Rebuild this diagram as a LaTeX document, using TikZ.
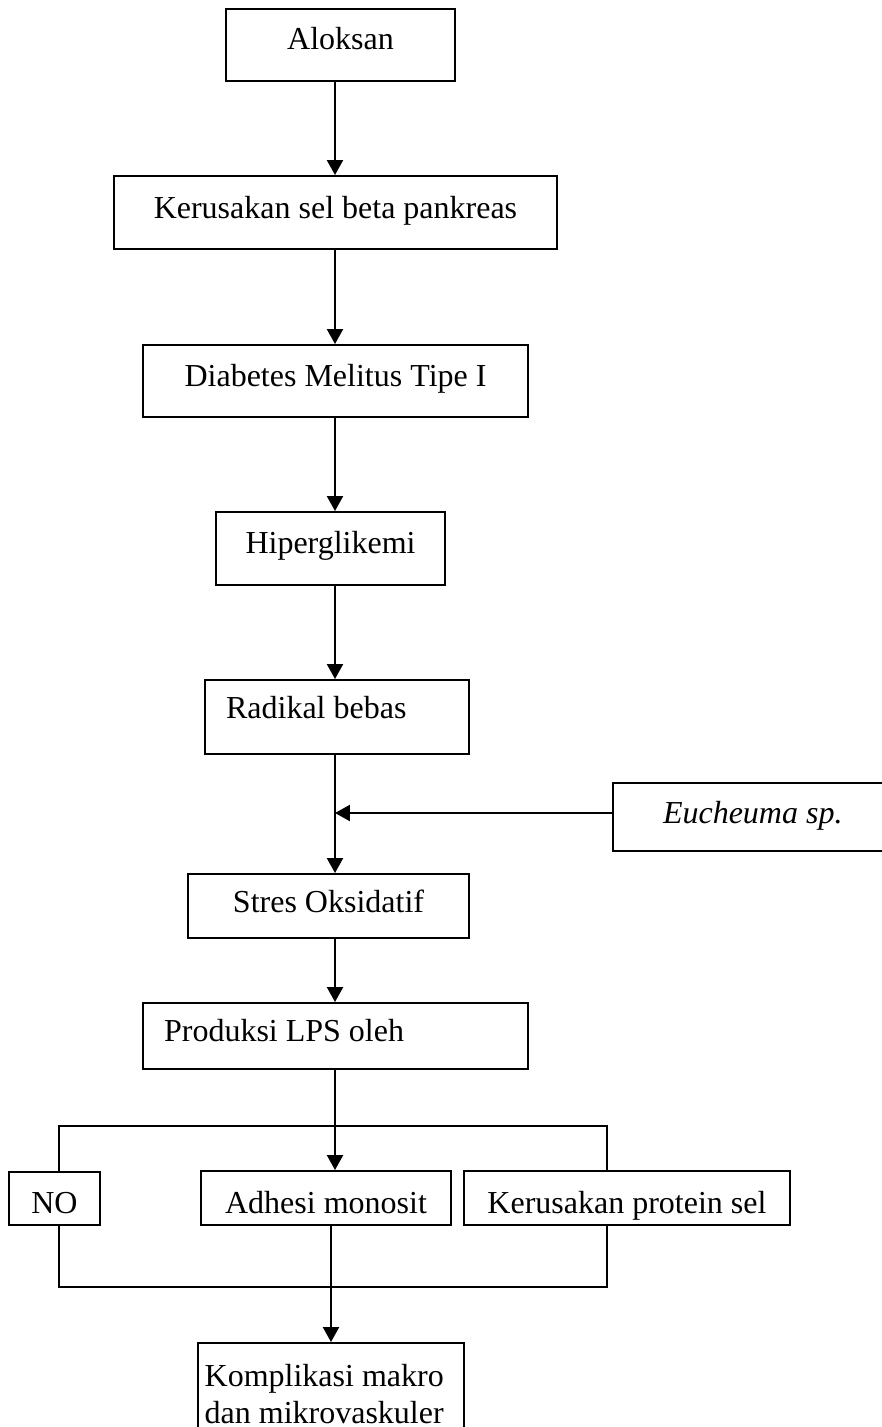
\documentclass[tikz,border=0pt]{standalone}
\usepackage{fontspec}
\setmainfont{Liberation Serif}
\usetikzlibrary{arrows.meta}
\tikzset{
  kotak/.style={draw, line width=0.75pt, inner sep=0pt, anchor=north west,
    font=\fontsize{12}{13.9}\selectfont},
  kiriteks/.style={inner xsep=7.9pt, align=flush left},
  garis/.style={line width=0.75pt},
  panah/.style={garis, -{Triangle[length=5.6pt,width=6pt]}},
}
\begin{document}
\begin{tikzpicture}[x=0.375pt, y=-0.375pt]
  \path[use as bounding box, clip] (0,0) rectangle (882,1427);
  \node[kotak, minimum width=85.9pt, text height=15pt, text depth=12pt] (aloksan) at (225,8) {Aloksan};
  \node[kotak, minimum width=166.1pt, text height=15.75pt, text depth=11.6pt] (kerusakan) at (113,175) {Kerusakan sel beta pankreas};
  \node[kotak, minimum width=144.4pt, text height=15.4pt, text depth=11.6pt] (diabetes) at (142,344) {Diabetes Melitus Tipe I};
  \node[kotak, minimum width=85.9pt, text height=15.4pt, text depth=12pt] (hiper) at (215,511) {Hiperglikemi};
  \node[kotak, kiriteks, text width=83.2pt, text height=14.6pt, text depth=13.1pt] (radikal) at (204,679) {Radikal bebas};
  \node[kotak, kiriteks, inner xsep=18.75pt, text width=100pt, text height=15pt, text depth=10.5pt] (eucheuma) at (612,782) {\textit{Eucheuma sp.}};
  \node[kotak, minimum width=105.4pt, text height=14.6pt, text depth=9.4pt] (stres) at (187,873) {Stres Oksidatif};
  \node[kotak, kiriteks, text width=128.6pt, text height=14.25pt, text depth=10.5pt] (lps) at (142,1002) {Produksi LPS oleh};
  \node[kotak, minimum width=34.1pt, text height=15.4pt, text depth=4.5pt] (no) at (8,1171) {NO};
  \node[kotak, minimum width=93.75pt, text height=15.75pt, text depth=4.5pt] (adhesi) at (200,1170) {Adhesi monosit};
  \node[kotak, minimum width=122.25pt, text height=15.75pt, text depth=4.5pt] (protein) at (463,1170) {Kerusakan protein sel};
  \node[kotak, text width=94.75pt, inner xsep=2.5pt, inner ysep=7.9pt, align=flush left] (komplikasi) at (197,1342) {Komplikasi makro\\dan mikrovaskuler};

  \coordinate (spine) at (335,0);
  \draw[panah] (aloksan.south -| spine) -- (kerusakan.north -| spine);
  \draw[panah] (kerusakan.south -| spine) -- (diabetes.north -| spine);
  \draw[panah] (diabetes.south -| spine) -- (hiper.north -| spine);
  \draw[panah] (hiper.south -| spine) -- (radikal.north -| spine);
  \draw[panah] (radikal.south -| spine) -- (stres.north -| spine);
  \draw[panah] ([yshift=3.75pt]eucheuma.base west) -- ([yshift=3.75pt]eucheuma.base west -| spine);
  \draw[panah] (stres.south -| spine) -- (lps.north -| spine);
  \draw[panah] (lps.south -| spine) -- (adhesi.north -| spine);

  \coordinate (kiri) at (59,1126);
  \coordinate (kanan) at (607,1126);
  \draw[garis] (no.north -| kiri) -- (kiri) -- (kanan) -- (protein.north -| kanan);
  \coordinate (kiribawah) at (59,1287);
  \coordinate (kananbawah) at (607,1287);
  \draw[garis] (no.south -| kiri) -- (kiribawah) -- (kananbawah) -- (protein.south -| kanan);
  \coordinate (turun) at (331,0);
  \draw[panah] (adhesi.south -| turun) -- (komplikasi.north -| turun);
\end{tikzpicture}
\end{document}
